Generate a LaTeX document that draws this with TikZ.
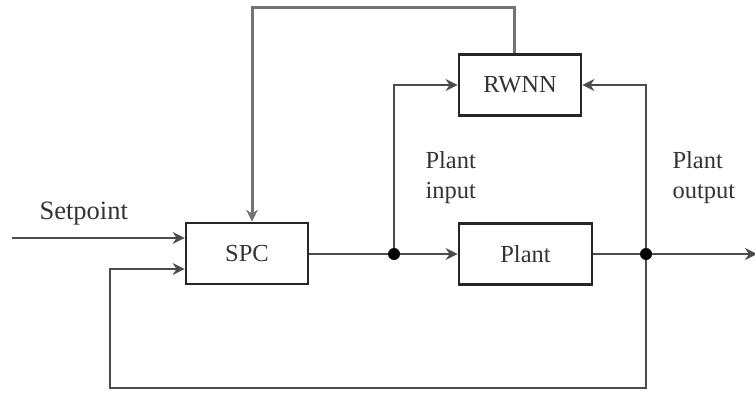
\documentclass[tikz,border=0pt]{standalone}
\usepackage{fontspec}
\setmainfont{Liberation Serif}
\usetikzlibrary{arrows.meta}
\begin{document}
\begin{tikzpicture}[x=1pt,y=-1pt,
  blockbox/.style={draw=black!85,line width=2.8pt,minimum width=#1,minimum height=61pt,inner sep=0pt,font=\fontsize{24.5}{26}\selectfont,text=black!80},
  conn/.style={draw=black!70,line width=1.8pt},
  arr/.style={conn,-{Stealth[length=12pt,width=12pt,inset=4pt]}},
  dotnode/.style={circle,fill=black,inner sep=0pt,minimum size=12pt},
  lbl/.style={font=\fontsize{24.5}{30}\selectfont,align=left,text=black!80}]
\useasboundingbox (0,0) rectangle (755,396);
\node[blockbox=122pt] (spc) at (247,253.5) {SPC};
\node[blockbox=122pt] (rwnn) at (520,85) {RWNN};
\node[blockbox=133pt] (plant) at (525.5,254) {Plant};
\node[dotnode] (d1) at (394,254) {};
\node[dotnode] (d2) at (646,254) {};
\coordinate (sp0) at (12,238);
\coordinate (out) at (757,254);
\coordinate (tl) at (252,8);
\coordinate (tr) at (514,8);
\coordinate (bl) at (110,388);
\coordinate (br) at (646,388);
\node[lbl,anchor=base west,font=\fontsize{26.5}{30}\selectfont] (setp) at (36,219) {Setpoint};
\node[lbl,anchor=west] (pin) at (422,178) {Plant\\input};
\node[lbl,anchor=west] (pout) at (669,178) {Plant\\output};
% setpoint
\draw[arr] (sp0) -- (spc.west |- sp0);
% SPC to plant
\draw[conn] (spc.east |- d1) -- (d1);
\draw[arr] (d1) -- (plant.west |- d1);
\draw[arr] (d1) |- (rwnn.west);
% plant output
\draw[conn] (plant.east |- d2) -- (d2);
\draw[arr] (d2) -- (out);
\draw[arr] (d2) |- (rwnn.east);
% bottom feedback
\draw[arr] (d2) -- (br) -- (bl) |- (spc.west |- 0,269);
% top feedback
\draw[arr,draw=black!55,line width=3pt] (rwnn.north -| tr) -- (tr) -- (tl) -- (spc.north -| tl);
\end{tikzpicture}
\end{document}
